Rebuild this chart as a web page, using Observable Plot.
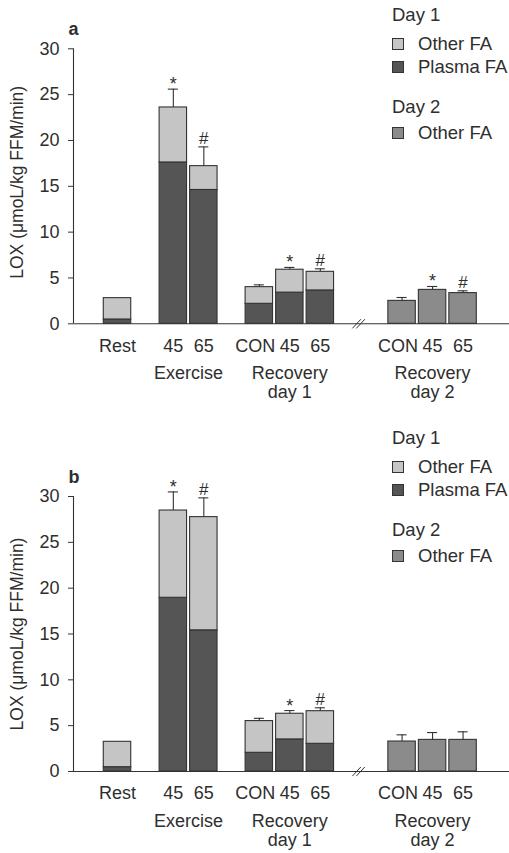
<!DOCTYPE html>
<html><head><meta charset="utf-8">
<script src="https://cdn.jsdelivr.net/npm/d3@7"></script>
<script src="https://cdn.jsdelivr.net/npm/@observablehq/plot@0.6"></script>
<style>
body{margin:0;background:#fff;font-family:"Liberation Sans",Arial,Helvetica,sans-serif;color:#2e2e2e}
.panel{position:relative;width:509px;overflow:visible}
.panel svg{display:block;overflow:visible}
.legend{position:absolute;left:0;top:0;width:509px;height:0;font-size:18.5px;color:#2e2e2e}
.legend div{position:absolute;white-space:nowrap;line-height:20px;height:20px}
.sw{position:absolute;width:12px;height:12px;border:1px solid #333;box-sizing:border-box}
</style></head><body>
<div id="pa" class="panel"></div>
<div id="pb" class="panel"></div>
<script>
// ---- data ----
const barLabels = ["Rest","45","65","CON","45","65","CON","45","65"];
const groupTitles = ["", "Exercise", "Recovery\nday 1", "Recovery\nday 2"];
const groupOf = [0,1,1,2,2,2,3,3,3];
const dayOf = [1,1,1,1,1,1,2,2,2];
const seriesNames = ["Other FA (day 1)", "Plasma FA (day 1)", "Other FA (day 2)"];
const seriesColors = ["#c5c5c5", "#555555", "#8b8b8b"];
const yTicks = [0,5,10,15,20,25,30];
const yLabel = "LOX (μmoL/kg FFM/min)";

// panel a
const aTotal  = [2.8, 23.6, 17.2, 4.0, 5.9, 5.67, 2.5, 3.7, 3.35];
const aPlasma = [0.47, 17.6, 14.6, 2.18, 3.4, 3.64, null, null, null];
const aErr    = [null, 25.6, 19.3, 4.25, 6.15, 6.0, 2.87, 4.07, 3.6];
const aMark   = ["", "*", "#", "", "*", "#", "", "*", "#"];
// panel b
const bTotal  = [3.24, 28.47, 27.75, 5.5, 6.3, 6.58, 3.27, 3.45, 3.45];
const bPlasma = [0.47, 18.95, 15.4, 2.04, 3.5, 3.02, null, null, null];
const bErr    = [null, 30.5, 29.85, 5.8, 6.65, 6.95, 4.0, 4.25, 4.33];
const bMark   = ["", "*", "#", "", "*", "#", "", "", ""];

// ---- layout (bar slots) ----
const groupGapExtra = [0.83, 0.82, 1.68];
const pos = [];
barLabels.forEach((_, i) => {
  if (i === 0) pos.push(0);
  else pos.push(pos[i-1] + 1 + (groupOf[i] !== groupOf[i-1] ? groupGapExtra[groupOf[i]-1] : 0));
});
const half = 0.45, cap = 0.165;
const xDomain = [-1.443, 12.852];
const breakX = (pos[5] + pos[6]) / 2;

function panel(el, letter, total, plasma, err, mark, cfg) {
  const segs = [];
  const rows = total.map((t, i) => ({i, pos: pos[i], total: t, err: err[i], mark: mark[i], label: barLabels[i]}));
  total.forEach((t, i) => {
    if (dayOf[i] === 1) {
      segs.push({pos: pos[i], y1: 0, y2: plasma[i], s: seriesNames[1]});
      segs.push({pos: pos[i], y1: plasma[i], y2: t, s: seriesNames[0]});
    } else {
      segs.push({pos: pos[i], y1: 0, y2: t, s: seriesNames[2]});
    }
  });
  const groupsRows = groupTitles.map((g, k) => {
    const ps = pos.filter((_, i) => groupOf[i] === k);
    return {title: g, x: d3.mean(ps)};
  }).filter(d => d.title);
  const errRows = rows.filter(d => d.err != null);
  const ink = "#333";
  const svg = Plot.plot({
    width: 509, height: cfg.height,
    marginTop: cfg.mt, marginBottom: cfg.mb, marginLeft: 73, marginRight: 0,
    style: {fontFamily: '"Liberation Sans", Arial, Helvetica, sans-serif', fontSize: "18px", color: "#2e2e2e", background: "white", overflow: "visible"},
    x: {domain: xDomain, axis: null},
    y: {domain: [0, 30], axis: null},
    color: {domain: seriesNames, range: seriesColors},
    marks: [
      Plot.rectY(segs, {x1: d => d.pos - half, x2: d => d.pos + half, y1: "y1", y2: "y2", fill: "s", stroke: ink, strokeWidth: 1.1}),
      Plot.ruleX(errRows, {x: "pos", y1: "total", y2: "err", stroke: ink, strokeWidth: 1.1}),
      Plot.ruleY(errRows, {y: "err", x1: d => d.pos - cap, x2: d => d.pos + cap, stroke: ink, strokeWidth: 1.1}),
      Plot.text(rows.filter(d => d.mark === "*"), {x: "pos", y: "err", text: "mark", lineAnchor: "bottom", dy: 1, fontSize: 18}),
      Plot.text(rows.filter(d => d.mark === "#"), {x: "pos", y: "err", text: "mark", lineAnchor: "bottom", dy: -3, fontSize: 17}),
      Plot.ruleY([0], {stroke: ink, strokeWidth: 1.1}),
      Plot.ruleX([xDomain[0]], {y1: 0, y2: 30, stroke: ink, strokeWidth: 1.1}),
      Plot.axisY({ticks: yTicks, tickSize: 5, tickPadding: 9, label: null, stroke: ink, fontSize: 18}),
      Plot.link([breakX - 0.15, breakX - 0.02], {x1: d => d - 0.14, x2: d => d + 0.14, y1: -0.5, y2: 0.5, stroke: ink, strokeWidth: 1}),
      Plot.text(rows.filter(d => d.label !== "CON"), {x: "pos", y: 0, text: "label", dy: 22, lineAnchor: "middle", fontSize: 18}),
      Plot.text(rows.filter(d => d.label === "CON"), {x: "pos", y: 0, text: "label", dy: 22, dx: -4, lineAnchor: "middle", fontSize: 18}),
      Plot.text(groupsRows, {x: "x", y: 0, text: "title", dy: 42, lineAnchor: "top", lineHeight: 1.05, fontSize: 18}),
      Plot.text([letter], {frameAnchor: "top-left", text: d => d, dx: -5, dy: -14, textAnchor: "start", lineAnchor: "bottom", fontWeight: "bold", fontSize: 18}),
      Plot.text([yLabel], {frameAnchor: "left", text: d => d, rotate: -90, dx: -56, dy: cfg.labelDy, textAnchor: "middle", lineAnchor: "middle", fontSize: 17.5})
    ]
  });
  const host = document.getElementById(el);
  host.appendChild(svg);
  // legend
  const lg = document.createElement("div");
  lg.className = "legend";
  const items = [
    {head: "Day 1", y: 15},
    {text: "Other FA", color: seriesColors[0], y: 44},
    {text: "Plasma FA", color: seriesColors[1], y: 67},
    {head: "Day 2", y: 107},
    {text: "Other FA", color: seriesColors[2], y: 133}
  ];
  items.forEach(it => {
    if (it.head) {
      const d = document.createElement("div");
      d.textContent = it.head; d.style.left = "392px"; d.style.top = (it.y - 10) + "px";
      lg.appendChild(d);
    } else {
      const s = document.createElement("span");
      s.className = "sw"; s.style.background = it.color; s.style.left = "392px"; s.style.top = (it.y - 6) + "px";
      lg.appendChild(s);
      const d = document.createElement("div");
      d.textContent = it.text; d.style.left = "418px"; d.style.top = (it.y - 10) + "px";
      lg.appendChild(d);
    }
  });
  host.appendChild(lg);
}

panel("pa", "a", aTotal, aPlasma, aErr, aMark, {height: 423, mt: 48.3, mb: 99.7, labelDy: -4});
panel("pb", "b", bTotal, bPlasma, bErr, bMark, {height: 430, mt: 73, mb: 82, labelDy: 0});
</script>
</body></html>
